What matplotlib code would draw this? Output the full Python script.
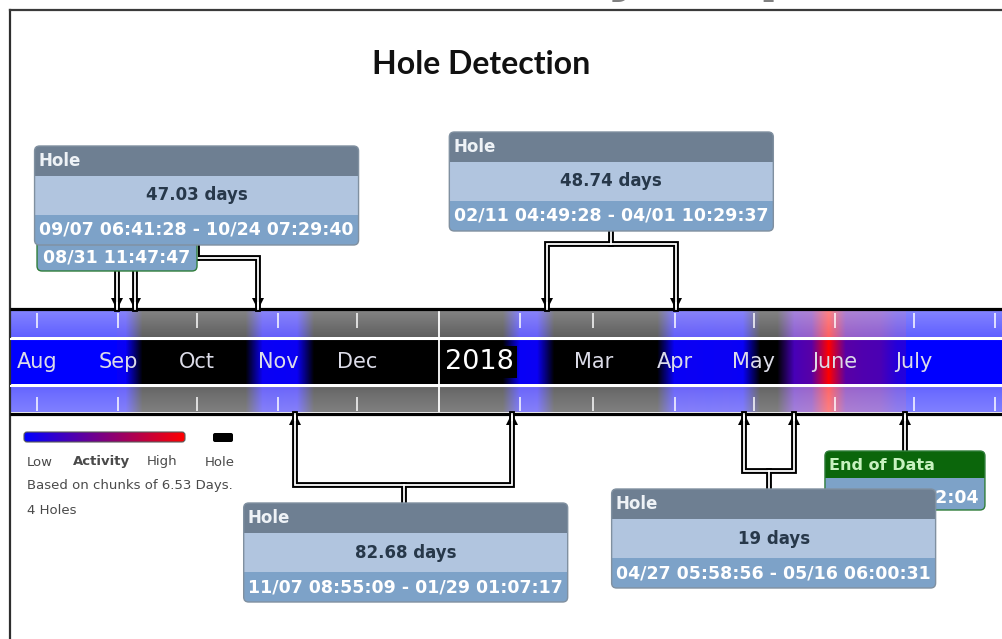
import numpy as np
import matplotlib
matplotlib.use("Agg")
import matplotlib.pyplot as plt
import matplotlib.dates as mdates
from matplotlib.patches import FancyBboxPatch, Rectangle
from matplotlib.colors import LinearSegmentedColormap, Normalize
from datetime import datetime

# ---- recording window and activity chunks ----
DATA_START = datetime(2017, 8, 31, 11, 47, 47)
DATA_END = datetime(2018, 6, 27, 16, 32, 4)
CHUNK_DAYS = 6.53

# events per 6.53-day chunk, counted from DATA_START (0 = nothing recorded)
CHUNK_COUNTS = [
    4, 0, 0, 0, 0, 0, 0, 0, 5, 4,
    5, 0, 0, 0, 0, 0, 0, 0, 0, 0,
    0, 0, 0, 4, 5, 0, 0, 0, 0, 0,
    0, 0, 4, 5, 4, 5, 4, 0, 0, 32,
    40, 115, 40, 36, 34, 16,
]

# ---- detected holes ----
HOLE_START = [
    datetime(2017, 9, 7, 6, 41, 28),
    datetime(2017, 11, 7, 8, 55, 9),
    datetime(2018, 2, 11, 4, 49, 28),
    datetime(2018, 4, 27, 5, 58, 56),
]
HOLE_END = [
    datetime(2017, 10, 24, 7, 29, 40),
    datetime(2018, 1, 29, 1, 7, 17),
    datetime(2018, 4, 1, 10, 29, 37),
    datetime(2018, 5, 16, 6, 0, 31),
]
HOLE_DAYS = [47.03, 82.68, 48.74, 19]

# ---- month axis ----
MONTH_NAMES = ["Aug", "Sep", "Oct", "Nov", "Dec", "Mar", "Apr", "May", "June", "July"]
MONTH_DATES = [datetime(2017, m, 1) for m in (8, 9, 10, 11, 12)] + \
              [datetime(2018, m, 1) for m in (3, 4, 5, 6, 7)]
TICK_DATES = [datetime(2017, m, 1) for m in range(8, 13)] + \
             [datetime(2018, m, 1) for m in range(1, 9)]
YEAR_START = datetime(2018, 1, 1)

# ---- layout (pixels) ----
W, H = 1003, 639
PX_PER_DAY = 958 / 365.0
HOLE_TOP = [146, 503, 132, 489]
HOLE_SHIFT = [0, 2, 0, 5]          # nudge cards off their stems
HOLE_ABOVE = [True, False, True, False]
CARD_W, MARK_W = 324, 160
START_TOP, END_TOP = 212, 451
BAND_TOP, BAND_BOT = 308.5, 413.5

fig = plt.figure(figsize=(W / 100, H / 100), dpi=100)
ax = fig.add_axes([0, 0, 1, 1])
x_left = mdates.date2num(datetime(2017, 8, 1)) - 37 / PX_PER_DAY
x_right = x_left + W / PX_PER_DAY
ax.set_xlim(x_left, x_right)
ax.set_ylim(H, 0)
ax.axis("off")

ov = fig.add_axes([0, 0, 1, 1])
ov.set_xlim(0, W)
ov.set_ylim(H, 0)
ov.axis("off")
ov.patch.set_alpha(0)


def xpx(d):
    return ax.transData.transform((mdates.date2num(d), 0))[0]


# ---- activity band ----
cmap = LinearSegmentedColormap.from_list("activity", ["#0000ff", "#ff0000"])
counts = np.array(CHUNK_COUNTS, float)
base = cmap(Normalize(0, counts.max())(counts))[:, :3]
base[counts == 0] = 0.0
low = np.array(cmap(0.0)[:3])[None, :]


def shade(rgb, w_top, w_bot, rows=16):
    f = np.linspace(w_top, w_bot, rows)[:, None, None]
    return rgb[None, :, :] * (1 - f) + f


band_left = ax.transData.inverted().transform((10, 0))[0]
d0 = mdates.date2num(DATA_START)
d1 = d0 + len(CHUNK_COUNTS) * CHUNK_DAYS
for y_top, y_bot, w_top, w_bot in [(310, 337.5, 0.52, 0.38),
                                   (339.5, 384.5, 0.0, 0.0),
                                   (386.5, 412, 0.40, 0.50)]:
    ax.imshow(shade(low, w_top, w_bot), extent=(band_left, x_right, y_bot, y_top),
              aspect="auto", interpolation="bilinear", zorder=1)
    ax.imshow(shade(base, w_top, w_bot), extent=(d0, d1, y_bot, y_top),
              aspect="auto", interpolation="bilinear", zorder=2)
ax.set_xlim(x_left, x_right)
ax.set_ylim(H, 0)

for d in TICK_DATES:
    if d == YEAR_START:
        ax.vlines(mdates.date2num(d), 310, 412, color="white", lw=1.3, zorder=3)
        continue
    ax.vlines(mdates.date2num(d), 313, 328, color="white", lw=1.2, alpha=0.9, zorder=3)
    ax.vlines(mdates.date2num(d), 397, 411, color="white", lw=1.2, alpha=0.9, zorder=3)

for name, d in zip(MONTH_NAMES, MONTH_DATES):
    ax.text(mdates.date2num(d), 362, name, ha="center", va="center",
            fontsize=15, color="#dcdce8", zorder=4)

ov.text(xpx(YEAR_START) + 6, 362, str(YEAR_START.year), ha="left", va="center",
        fontsize=19.5, color="white", zorder=4,
        bbox=dict(boxstyle="square,pad=0.12", fc="black", ec="none"))

ov.hlines([BAND_TOP, BAND_BOT], 10, W, color="black", lw=2.3, zorder=3)
ov.hlines([338.5, 385.5], 10, W, color="white", lw=1.5, zorder=3)

# ---- connectors ----
black_paths, tips_down, tips_up = [], [], []
for s, e, top, above in zip(HOLE_START, HOLE_END, HOLE_TOP, HOLE_ABOVE):
    xs, xe = xpx(s), xpx(e)
    cx = (xs + xe) / 2
    if above:
        edge, j, box_y = BAND_TOP, top + 99 + 13, top + 99
        tips_down += [xs, xe]
    else:
        edge, j, box_y = BAND_BOT, top - 18, top
        tips_up += [xs, xe]
    black_paths.append(([xs, xs, xe, xe], [edge, j, j, edge]))
    black_paths.append(([cx, cx], [box_y, j]))

xs0, xe0 = xpx(DATA_START), xpx(DATA_END)
black_paths.append(([xs0, xs0], [START_TOP + 59, BAND_TOP]))
black_paths.append(([xe0, xe0], [BAND_BOT, END_TOP]))
tips_down.append(xs0)
tips_up.append(xe0)

for px_, py_ in black_paths:
    ov.plot(px_, py_, color="black", lw=4.2, solid_joinstyle="miter", zorder=5)
ov.plot(tips_down, [BAND_TOP - 5] * len(tips_down), "v", color="black", ms=8.5, mew=0, zorder=6)
ov.plot(tips_up, [BAND_BOT + 5] * len(tips_up), "^", color="black", ms=8.5, mew=0, zorder=6)
for px_, py_ in black_paths:
    ov.plot(px_, py_, color="white", lw=1.3, solid_joinstyle="miter", zorder=7)
ov.plot(tips_down, [BAND_TOP - 4] * len(tips_down), "|", color="white", ms=5, mew=1.3, zorder=7)
ov.plot(tips_up, [BAND_BOT + 4] * len(tips_up), "|", color="white", ms=5, mew=1.3, zorder=7)


# ---- callout cards ----
def card(cx, top, w, sections, border, z):
    left = cx - w / 2
    h = sum(hh for hh, _ in sections)
    outline = FancyBboxPatch((left, top), w, h, boxstyle="round,pad=0,rounding_size=5",
                             fc="none", ec=border, lw=1.0, zorder=z + 0.5)
    ov.add_patch(outline)
    y = top
    for hh, col in sections:
        r = Rectangle((left, y), w, hh, fc=col, ec="none", zorder=z)
        ov.add_patch(r)
        r.set_clip_path(outline)
        y += hh
    return left


HEAD, MID, FOOT = "#6e7f92", "#b1c5df", "#7da2c8"
GREEN_HEAD, GREEN_EDGE = "#0b660b", "#2f7d3a"


def marker_card(d, top, title, z):
    cx = xpx(d)
    left = card(cx, top, MARK_W, [(27, GREEN_HEAD), (32, FOOT)], GREEN_EDGE, z)
    if title:
        ov.text(left + 4, top + 14, title, ha="left", va="center", fontsize=11.5,
                fontweight="bold", color="#c8f2c0", zorder=z + 1)
    ov.text(cx, top + 46, f"{d:%m/%d %H:%M:%S}", ha="center", va="center",
            fontsize=12.5, fontweight="bold", color="white", zorder=z + 1)


# the start card sits underneath the first hole card, only its time shows
marker_card(DATA_START, START_TOP, None, 10)
marker_card(DATA_END, END_TOP, "End of Data", 10)

for i, (s, e, top, days) in enumerate(zip(HOLE_START, HOLE_END, HOLE_TOP, HOLE_DAYS)):
    cx = (xpx(s) + xpx(e)) / 2 + HOLE_SHIFT[i]
    z = 20 + 2 * i
    left = card(cx, top, CARD_W, [(30, HEAD), (39, MID), (30, FOOT)], "#8090a0", z)
    ov.text(left + 4, top + 15, "Hole", ha="left", va="center", fontsize=12,
            fontweight="bold", color="#eef2f6", zorder=z + 1)
    ov.text(cx, top + 49.5, f"{days:g} days", ha="center", va="center", fontsize=12,
            fontweight="bold", color="#27384a", zorder=z + 1)
    ov.text(cx, top + 84, f"{s:%m/%d %H:%M:%S} - {e:%m/%d %H:%M:%S}", ha="center",
            va="center", fontsize=12.5, fontweight="bold", color="white", zorder=z + 1)

# ---- legend ----
bar = FancyBboxPatch((24, 432), 161, 10, boxstyle="round,pad=0,rounding_size=3",
                     fc="none", ec="#5a5a5a", lw=0.8, zorder=3)
ov.add_patch(bar)
grad = ov.imshow(np.linspace(0, 1, 256)[None, :], cmap=cmap, extent=(24, 185, 442, 432),
                 aspect="auto", zorder=2)
grad.set_clip_path(bar)
ov.add_patch(FancyBboxPatch((213, 433), 20, 9, boxstyle="round,pad=0,rounding_size=2",
                            fc="black", ec="none", zorder=3))
ov.set_xlim(0, W)
ov.set_ylim(H, 0)

leg_kw = dict(fontsize=9.5, color="#4a4a4a", va="center", ha="left")
ov.text(27, 462, "Low", **leg_kw)
ov.text(73, 462, "Activity", fontweight="bold", **leg_kw)
ov.text(147, 462, "High", **leg_kw)
ov.text(205, 462, "Hole", **leg_kw)
ov.text(27, 486, f"Based on chunks of {CHUNK_DAYS} Days.", **leg_kw)
ov.text(27, 510, f"{len(HOLE_START)} Holes", **leg_kw)

# ---- title and frame ----
ov.text(481, 64, "Hole Detection", ha="center", va="center", fontsize=23,
        fontweight="bold", family="Lato", color="#111111")
ov.text(800, -9.5, "Activity Map", ha="right", va="baseline", fontsize=41,
        fontweight="bold", color="#808080")
ov.plot([10, 10], [10, H], color="#2e2e2e", lw=1.6, zorder=2)
ov.plot([10, W], [10, 10], color="#3a3a3a", lw=1.6, zorder=2)

fig.savefig("out.png", dpi=100)
